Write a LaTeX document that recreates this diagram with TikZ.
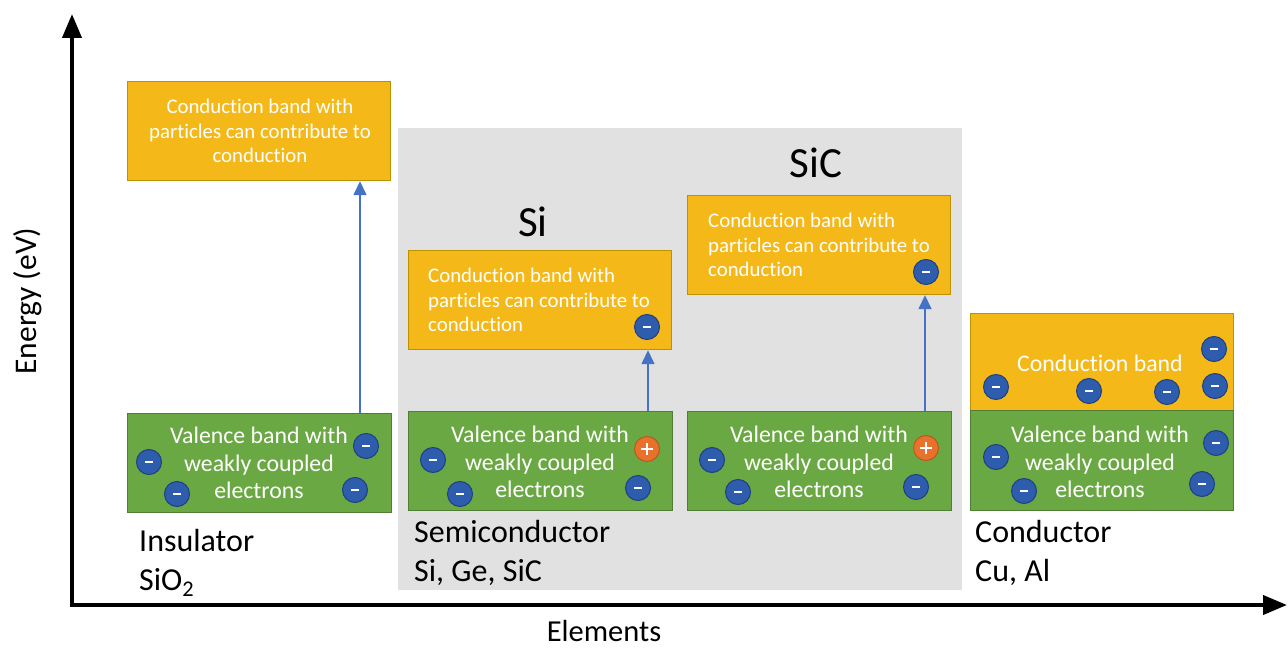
\documentclass[tikz,border=0pt]{standalone}
\usepackage{fontspec}
\setmainfont{Carlito}[Ligatures={NoCommon}]
\usetikzlibrary{arrows.meta,calc}
\definecolor{gold}{HTML}{F4B919}
\definecolor{golddark}{HTML}{BF9000}
\definecolor{leaf}{HTML}{6AA843}
\definecolor{leafdark}{HTML}{507E32}
\definecolor{elblue}{HTML}{2F5DAD}
\definecolor{elbluedark}{HTML}{1F3F80}
\definecolor{holeor}{HTML}{E8712C}
\definecolor{holeordark}{HTML}{B85A1E}
\definecolor{arrblue}{HTML}{4472C4}
\definecolor{panelgray}{HTML}{E1E1E1}
\begin{document}
\begin{tikzpicture}[x=1pt,y=-1pt,
  cband/.style={draw=golddark,fill=gold,line width=1.2pt,minimum width=263pt,minimum height=99pt,inner sep=0pt,anchor=north west},
  vband/.style={draw=leafdark,fill=leaf,line width=1.2pt,minimum width=264pt,minimum height=99pt,inner sep=0pt,anchor=north west},
  ctext/.style={text=white,font=\fontsize{20.8}{24.5}\selectfont,inner sep=0pt},
  vtext/.style={text=white,font=\fontsize{23.8}{27.5}\selectfont,inner sep=0pt,align=center},
  el/.style={circle,draw=elbluedark,fill=elblue,line width=1pt,minimum size=25pt,inner sep=0pt,
    path picture={\fill[white] ($(path picture bounding box.center)+(-4,-1.3)$) rectangle ($(path picture bounding box.center)+(4,1.3)$);}},
  hole/.style={circle,draw=holeordark,fill=holeor,line width=1pt,minimum size=25pt,inner sep=0pt,
    path picture={\fill[white] ($(path picture bounding box.center)+(-6,-1.3)$) rectangle ($(path picture bounding box.center)+(6,1.3)$);
                  \fill[white] ($(path picture bounding box.center)+(-1.3,-6)$) rectangle ($(path picture bounding box.center)+(1.3,6)$);}},
  excite/.style={draw=arrblue,line width=1.5pt,-{Triangle[length=14pt,width=13pt]}},
  axis/.style={line width=4pt,{Triangle[length=24pt,width=19pt]}-{Triangle[length=24pt,width=19pt]}},
  lbl/.style={font=\fontsize{32}{38.5}\selectfont,align=left,inner sep=0pt,anchor=west},
  title/.style={font=\fontsize{43}{44}\selectfont,inner sep=0pt}
]
\useasboundingbox (0,0) rectangle (1288,650);
\fill[white] (0,0) rectangle (1288,650);

% semiconductor panel
\node[fill=panelgray,minimum width=564pt,minimum height=462pt,inner sep=0pt,anchor=north west] (panel) at (398,128) {};

% axes
\coordinate (O) at (72,605);
\coordinate (ytop) at (72,14);
\coordinate (xend) at (1287,605);
\draw[axis] (ytop) -- (O) -- (xend);
\node[rotate=90,font=\fontsize{31.5}{32}\selectfont] (ylab) at (28,301) {Energy (eV)};
\node[font=\fontsize{30.5}{31}\selectfont,inner sep=0pt,anchor=base] (xlab) at (604,641) {Elements};

% Insulator
\node[cband] (insC) at (127,81) {};
\node[ctext,align=center] (insCt) at (260,131) {Conduction band with\\particles can contribute to\\conduction};
\node[vband] (insV) at (127,413) {};
\node[vtext] (insVt) at (259,463) {Valence band with\\weakly coupled\\electrons};
\node[el] (i1) at (149,462) {};
\node[el] (i2) at (366,446) {};
\node[el] (i3) at (177,494) {};
\node[el] (i4) at (355,490) {};
\coordinate (insX) at (360,0);
\draw[excite] (insV.north -| insX) -- (insC.south -| insX);
\node[lbl] (insL) at (139,563) {Insulator\\SiO\textsubscript{2}};

% Si
\node[title] (siT) at (533,222) {Si};
\node[cband] (siC) at (408,250) {};
\node[ctext,align=left,anchor=west] (siCt) at (428,300) {Conduction band with\\particles can contribute to\\conduction};
\node[el] (s0) at (647,327) {};
\node[vband] (siV) at (408,411) {};
\node[vtext] (siVt) at (540,462) {Valence band with\\weakly coupled\\electrons};
\node[el] (s1) at (433,460) {};
\node[el] (s2) at (460,494) {};
\node[el] (s3) at (638,488) {};
\node[hole] (s4) at (647,449) {};
\coordinate (siX) at (648,0);
\draw[excite] (siV.north -| siX) -- (siC.south -| siX);

% SiC
\node[title] (sicT) at (816,163) {SiC};
\node[cband] (sicC) at (687,195) {};
\node[ctext,align=left,anchor=west] (sicCt) at (708,245) {Conduction band with\\particles can contribute to\\conduction};
\node[el] (c0) at (926,272) {};
\node[vband] (sicV) at (687,411) {};
\node[vtext] (sicVt) at (819,462) {Valence band with\\weakly coupled\\electrons};
\node[el] (c1) at (712,460) {};
\node[el] (c2) at (738,492) {};
\node[el] (c3) at (916,487) {};
\node[hole] (c4) at (926,448) {};
\coordinate (sicX) at (925,0);
\draw[excite] (sicV.north -| sicX) -- (sicC.south -| sicX);

\node[lbl] (semiL) at (414,553) {Semiconductor\\Si, Ge, SiC};

% Conductor
\node[cband,minimum height=97pt] (conC) at (970,313) {};
\node[vband,minimum width=263pt,minimum height=100pt] (conV) at (970,410) {};
\node[vtext] (conCt) at (1100,363) {Conduction band};
\node[vtext] (conVt) at (1100,462) {Valence band with\\weakly coupled\\electrons};
\node[el] (k1) at (996,387) {};
\node[el] (k2) at (1089,391) {};
\node[el] (k3) at (1167,392) {};
\node[el] (k4) at (1214,349) {};
\node[el] (k5) at (1215,386) {};
\node[el] (k6) at (996,457) {};
\node[el] (k7) at (1216,443) {};
\node[el] (k8) at (1024,491) {};
\node[el] (k9) at (1202,484) {};
\node[lbl] (conL) at (975,553) {Conductor\\Cu, Al};
\end{tikzpicture}
\end{document}
